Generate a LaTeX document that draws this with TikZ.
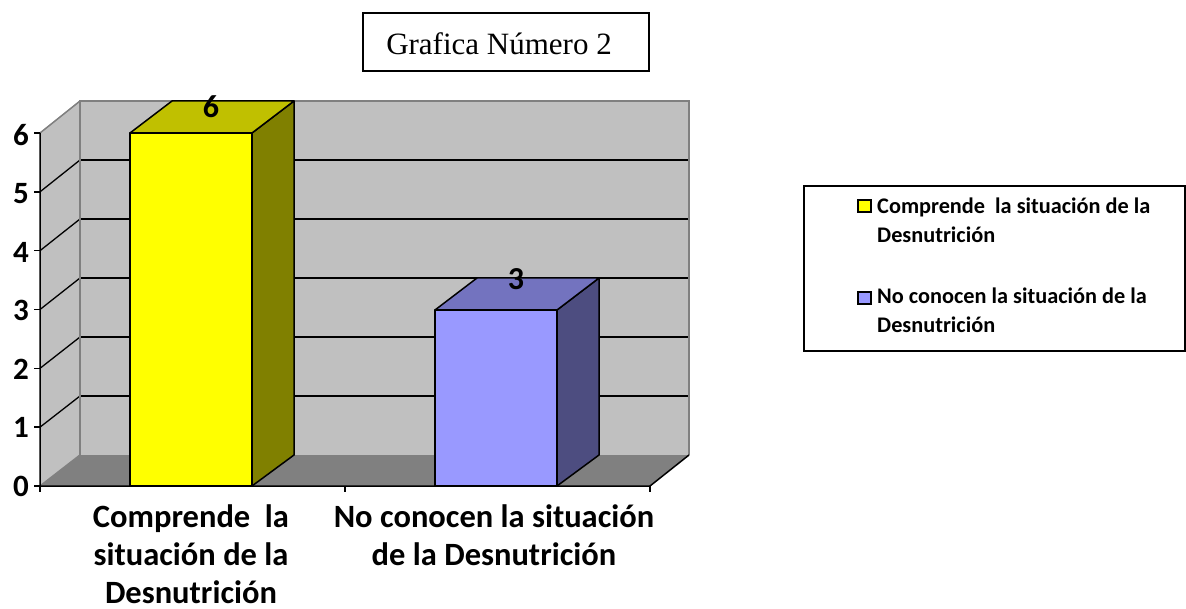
\documentclass[tikz,border=0pt]{standalone}
\usepackage{fontspec}
\setmainfont{Carlito}
\newfontfamily\titlefont{Liberation Serif}
\definecolor{wallc}{HTML}{C0C0C0}
\definecolor{floorc}{HTML}{808080}
\definecolor{edgec}{HTML}{808080}
\definecolor{yfront}{HTML}{FFFF00}
\definecolor{ytop}{HTML}{C0C000}
\definecolor{yside}{HTML}{808000}
\definecolor{bfront}{HTML}{9999FF}
\definecolor{btop}{HTML}{7373BF}
\definecolor{bside}{HTML}{4D4D80}
\begin{document}
\begin{tikzpicture}[x=1pt,y=-1pt,
  grid/.style={black,line width=1.3pt},
  walledge/.style={edgec,line width=1.5pt},
  axisline/.style={black,line width=1.5pt},
  barline/.style={black,line width=1.5pt,line join=round},
  ylab/.style={font=\fontsize{31}{31}\selectfont\bfseries,anchor=center},
  vlab/.style={font=\fontsize{32}{32}\selectfont\bfseries,anchor=center},
  catlab/.style={font=\fontsize{32.5}{38}\selectfont\bfseries,align=center,anchor=base,inner sep=0pt},
  leglab/.style={font=\fontsize{22.3}{29.5}\selectfont\bfseries,align=left,anchor=base west,inner sep=0pt},
  legsq/.style={draw=black,line width=1.2pt}]
\useasboundingbox (0,0) rectangle (1186,609);
% walls
\fill[wallc] (80,101) rectangle (689,455);
\fill[wallc] (40,133) -- (80,101) -- (80,455) -- (40,486) -- cycle;
\fill[floorc] (40,486) -- (80,455) -- (689,455) -- (650,486) -- cycle;
\foreach \k in {1,...,5}{
  \draw[grid] (80,{455-59*\k}) -- (689,{455-59*\k});
  \draw[grid] (40,{486-58.83*\k}) -- (80,{455-59*\k});
}
\draw[walledge] (80,455) -- (80,101) -- (689,101) -- (689,455);
\draw[walledge] (40,133) -- (80,101);
\draw[walledge] (40,486) -- (80,455);
% axes
\draw[axisline] (40,133) -- (40,486) -- (650,486) -- (689,455);
\foreach \k in {0,...,6}{
  \draw[axisline] (34,{486-58.83*\k}) -- (40,{486-58.83*\k});
  \node[ylab] (y\k) at (21,{486-58.5*\k}) {\k};
}
\foreach \x in {40,345,650}{\draw[axisline] (\x,486) -- (\x,492);}
% bar 1
\filldraw[barline,fill=yside] (252,133) -- (294,101) -- (294,455) -- (252,486) -- cycle;
\filldraw[barline,fill=ytop] (130,133) -- (172,101) -- (294,101) -- (252,133) -- cycle;
\filldraw[barline,fill=yfront] (130,133) rectangle (252,486);
% bar 2
\filldraw[barline,fill=bside] (557,310) -- (599,278) -- (599,455) -- (557,486) -- cycle;
\filldraw[barline,fill=btop] (435,310) -- (477,278) -- (599,278) -- (557,310) -- cycle;
\filldraw[barline,fill=bfront] (435,310) rectangle (557,486);
% value labels
\node[vlab] (v1) at (211,107) {6};
\node[vlab] (v2) at (516,279) {3};
% category labels (base = last line)
\node[catlab] (c1) at (191,603) {Comprende\ \ la\\situación de la\\Desnutrición};
\node[catlab] (c2) at (494,565) {No conocen la situación\\de la Desnutrición};
% title
\draw[black,line width=1.3pt] (363,13) rectangle (649,71);
\node[font=\titlefont\fontsize{31}{31}\selectfont] (title) at (499,44) {Grafica Número 2};
% legend
\draw[black,line width=1.3pt] (804,186) rectangle (1185,351);
\filldraw[legsq,fill=yfront] (858,200) rectangle (871,212);
\filldraw[legsq,fill=bfront] (858,292) rectangle (871,304);
\node[leglab] (l1) at (877,243) {Comprende\ \ la situación de la\\Desnutrición};
\node[leglab] (l2) at (877,333) {No conocen la situación de la\\Desnutrición};
\end{tikzpicture}
\end{document}
